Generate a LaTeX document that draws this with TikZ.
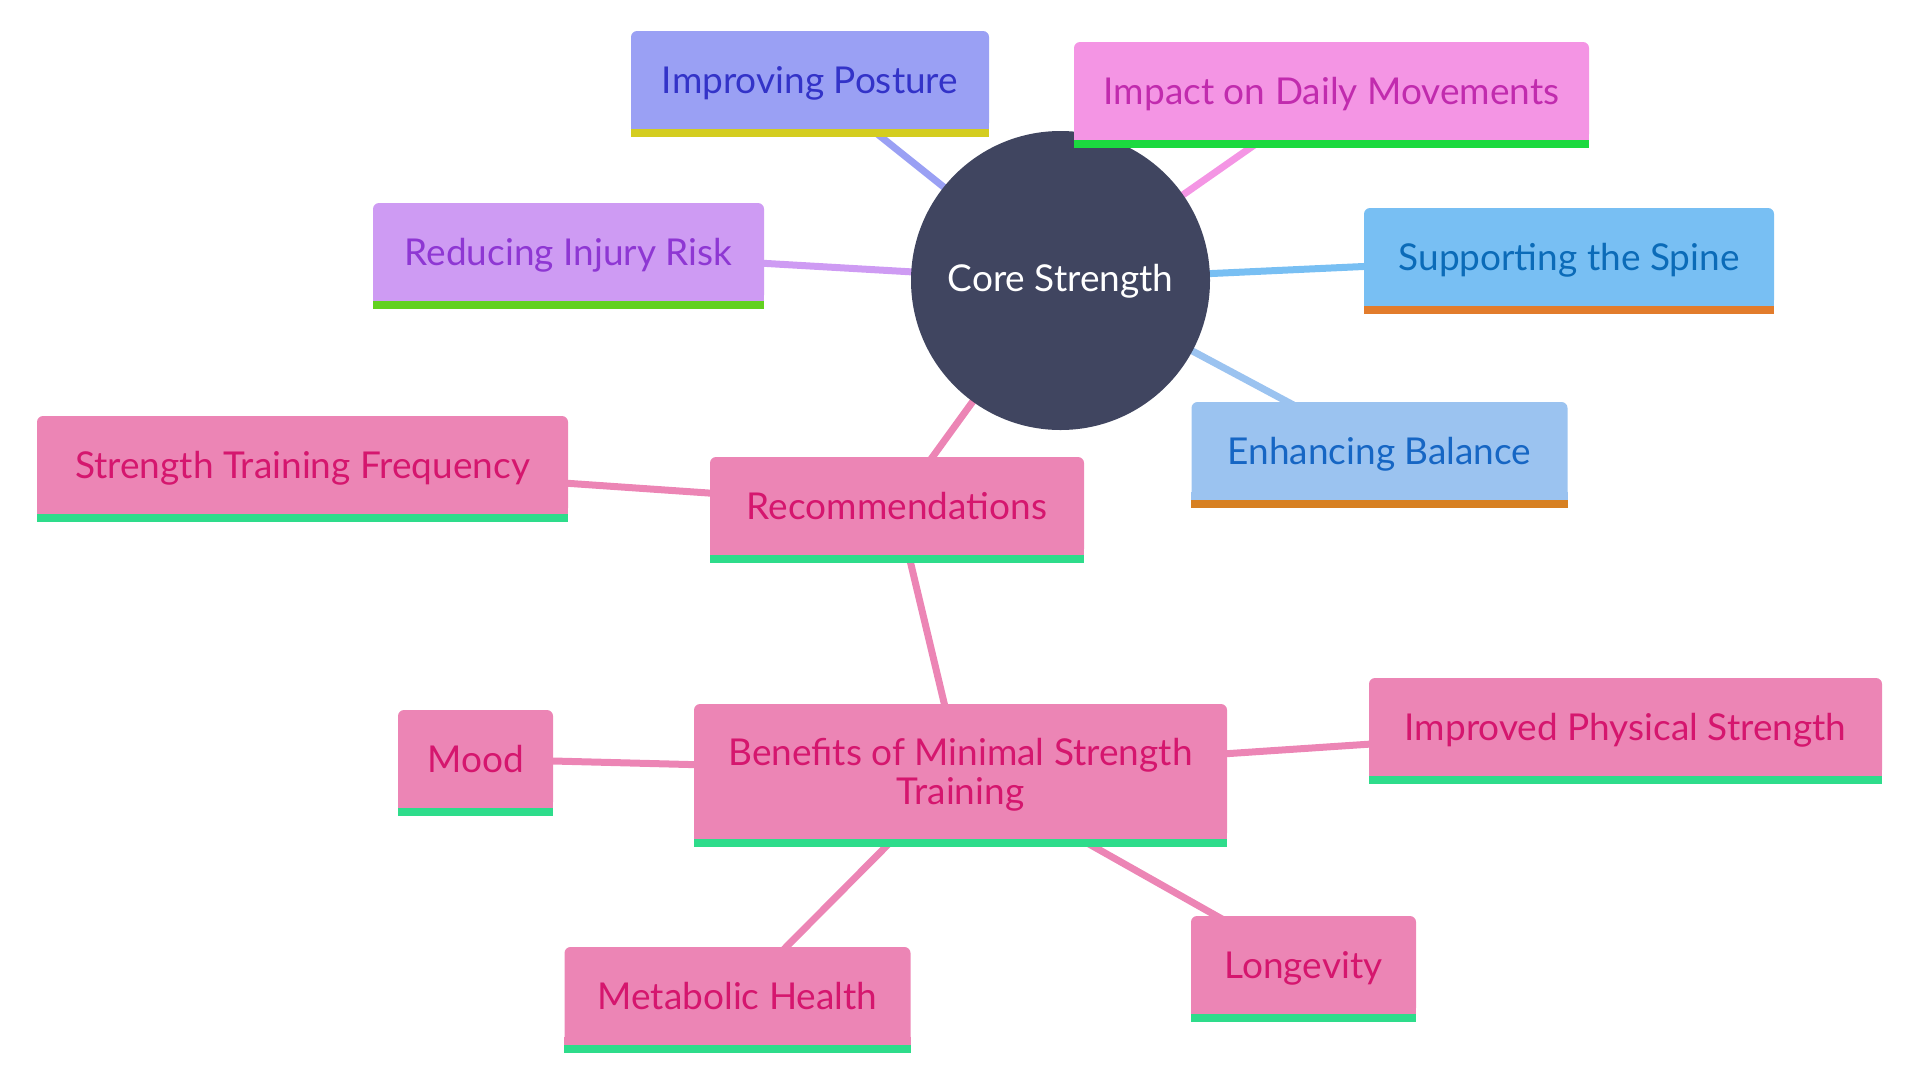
\documentclass[tikz,border=0pt]{standalone}
\usepackage{fontspec}
\setmainfont{Lato}
\usetikzlibrary{backgrounds}
\definecolor{corec}{HTML}{404560}
\definecolor{postF}{HTML}{9AA0F4}\definecolor{postT}{HTML}{3333C8}\definecolor{postB}{HTML}{D4CD1F}
\definecolor{impF}{HTML}{F495E4}\definecolor{impT}{HTML}{C12BAE}\definecolor{impB}{HTML}{1CD93F}
\definecolor{injF}{HTML}{CE9BF3}\definecolor{injT}{HTML}{8E37D3}\definecolor{injB}{HTML}{62D11F}
\definecolor{spiF}{HTML}{78BFF3}\definecolor{spiT}{HTML}{0B6BB8}\definecolor{spiB}{HTML}{E27C2C}
\definecolor{balF}{HTML}{9BC3F0}\definecolor{balT}{HTML}{1666C4}\definecolor{balB}{HTML}{D78022}
\definecolor{pnkF}{HTML}{EC85B5}\definecolor{pnkT}{HTML}{D5166E}\definecolor{pnkB}{HTML}{2EDC8B}
\newcommand{\mmbar}[3]{%
  \fill[#2] ([yshift=8pt]#1.south west) rectangle (#1.south east);
  \fill[#3] (#1.south west) rectangle ([yshift=-8pt]#1.south east);}
\begin{document}
\begin{tikzpicture}[x=1pt,y=-1pt,
  box/.style={rectangle, rounded corners=6pt, minimum height=98pt, inner sep=0pt,
    align=center, font=\fontsize{37}{39}\selectfont},
  sbox/.style={box, text height=27pt, text depth=0pt},
  edge/.style={line width=7pt}]
\useasboundingbox (0,0) rectangle (1920,1080);
\node[circle, fill=corec, minimum size=299pt, inner sep=0pt, text=white,
  font=\fontsize{37}{39}\selectfont, text depth=5pt] (core) at (1060.5,280.5) {Core Strength};
\node[sbox, fill=postF, text=postT, minimum width=358pt] (post) at (810,80) {Improving Posture};
\mmbar{post}{postF}{postB}
\node[sbox, fill=impF, text=impT, minimum width=515pt] (imp) at (1331.5,91) {Impact on Daily Movements};
\mmbar{imp}{impF}{impB}
\node[sbox, fill=injF, text=injT, minimum width=391pt] (inj) at (568.5,252) {Reducing Injury Risk};
\mmbar{inj}{injF}{injB}
\node[sbox, fill=spiF, text=spiT, minimum width=410pt] (spi) at (1569,257) {Supporting the Spine};
\mmbar{spi}{spiF}{spiB}
\node[sbox, fill=balF, text=balT, minimum width=376pt] (bal) at (1379.5,451) {Enhancing Balance};
\mmbar{bal}{balF}{balB}
\node[sbox, fill=pnkF, text=pnkT, minimum width=374pt] (rec) at (897,506) {Recommendations};
\mmbar{rec}{pnkF}{pnkB}
\node[sbox, fill=pnkF, text=pnkT, minimum width=531pt] (stf) at (302.5,465) {Strength Training Frequency};
\mmbar{stf}{pnkF}{pnkB}
\node[box, fill=pnkF, text=pnkT, minimum width=533pt, minimum height=135pt, text depth=0pt] (ben) at (960.5,771.5) {Benefits of Minimal Strength\\Training};
\mmbar{ben}{pnkF}{pnkB}
\node[sbox, fill=pnkF, text=pnkT, minimum width=513pt] (ips) at (1625.5,727) {Improved Physical Strength};
\mmbar{ips}{pnkF}{pnkB}
\node[sbox, fill=pnkF, text=pnkT, minimum width=155pt] (mood) at (475.5,759) {Mood};
\mmbar{mood}{pnkF}{pnkB}
\node[sbox, fill=pnkF, text=pnkT, minimum width=346pt] (met) at (737.5,996) {Metabolic Health};
\mmbar{met}{pnkF}{pnkB}
\node[sbox, fill=pnkF, text=pnkT, minimum width=225pt] (lon) at (1303.5,965) {Longevity};
\mmbar{lon}{pnkF}{pnkB}
\begin{pgfonlayer}{background}
\draw[edge, postF] (core.center) -- (post.center);
\draw[edge, impF] (core.center) -- (imp.center);
\draw[edge, injF] (core.center) -- (inj.center);
\draw[edge, spiF] (core.center) -- (spi.center);
\draw[edge, balF] (core.center) -- (bal.center);
\draw[edge, pnkF] (core.center) -- (rec.center);
\draw[edge, pnkF] (rec.center) -- (stf.center);
\draw[edge, pnkF] (rec.center) -- (ben.center);
\draw[edge, pnkF] (ben.center) -- (ips.center);
\draw[edge, pnkF] (ben.center) -- (mood.center);
\draw[edge, pnkF] (ben.center) -- (met.center);
\draw[edge, pnkF] (ben.center) -- (lon.center);
\end{pgfonlayer}
\end{tikzpicture}
\end{document}
